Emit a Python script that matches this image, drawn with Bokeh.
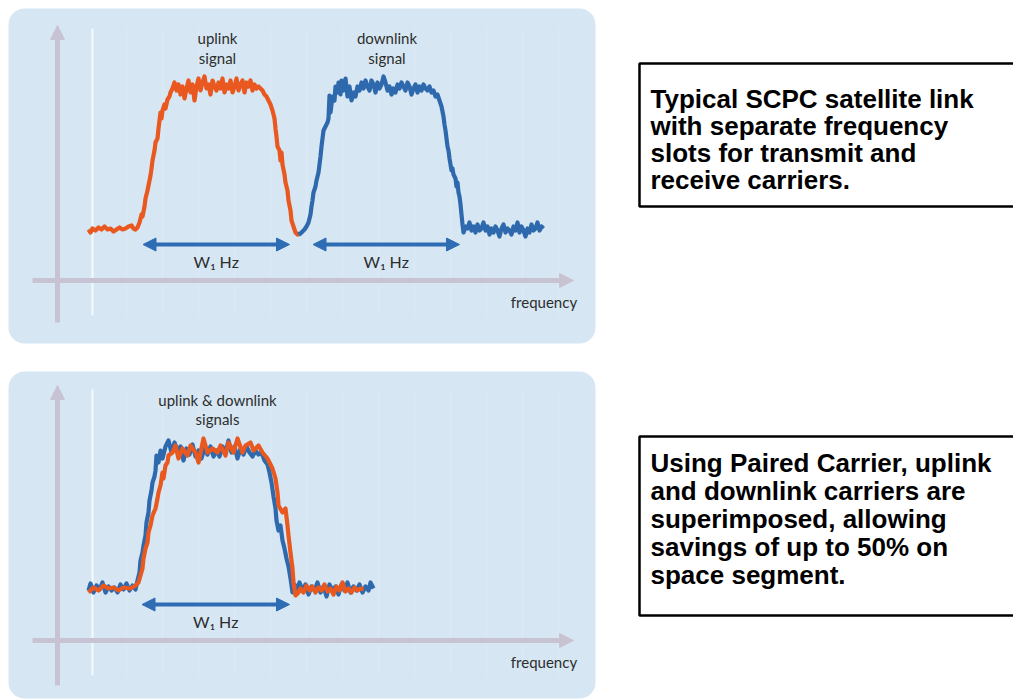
from bokeh.plotting import figure
from bokeh.layouts import row, column
from bokeh.models import Range1d, BoxAnnotation, Arrow, NormalHead
from bokeh.core.properties import value
from bokeh.embed import file_html
from bokeh.resources import INLINE

# ---------------- data (frequency in arbitrary MHz, power in dB) ----------------
# top chart: separate uplink / downlink carriers
top_uplink_f = [0.0, 0.4, 0.8, 1.4, 2.0, 2.6, 3.2, 3.8, 4.4, 5.0, 5.6, 6.2, 6.8, 7.4, 8.0, 8.6, 9.0, 9.4, 9.8,
                10.2, 10.6, 10.8, 11.2, 11.4, 11.8, 12.0, 12.4, 12.6, 12.8, 13.2, 13.4, 13.8, 14.0, 14.4, 14.6, 14.8,
                15.2, 15.4, 15.8, 16.2, 16.4, 16.8,
                17.2, 17.6, 18.0, 18.4, 18.8, 19.2, 19.6, 20.0, 20.4, 20.8, 21.2, 21.6, 22.0, 22.4, 22.8, 23.2, 23.6,
                24.0, 24.4, 24.8, 25.2, 25.6, 26.0, 26.4, 26.8, 27.2, 27.6, 28.0, 28.4, 28.8, 29.2, 29.6, 30.0, 30.4,
                30.8, 31.2, 31.6, 32.0, 32.4, 32.8, 33.2, 33.6, 34.0, 34.4,
                34.8, 35.2, 35.6, 36.0, 36.4, 36.8, 37.2, 37.4, 37.6, 37.8, 38.2, 38.4, 38.6, 38.8, 39.2, 39.4, 39.8,
                40.0, 40.4, 40.6, 41.0, 41.4, 41.8, 42.2]
top_uplink_db = [-28.8, -29.4, -28.6, -29.0, -28.4, -28.8, -28.2, -28.8, -28.6, -29.2, -28.8, -28.4, -28.8, -28.6,
                 -28.2, -28.0, -28.6, -28.8, -28.4,
                 -27.4, -25.8, -26.2, -24.2, -22.6, -21.0, -20.0, -18.0, -16.6, -15.0, -13.0, -11.4, -10.6, -8.6,
                 -5.4, -6.6, -5.0, -3.8, -4.6, -2.8, -2.2, -1.4, -0.6,
                 0.6, -1.0, 0.2, -1.8, -0.2, -2.6, -0.6, 1.0, -1.4, 0.2, -3.0, -0.2, 1.4, -1.0, 0.6, 1.8, -0.6,
                 0.2, -1.8, 1.0, -0.2, -1.0, 0.6, -0.6, 1.4, -1.4, 0.2, -0.6, 1.0, -1.4, -0.2, 1.4, -1.0, 0.2,
                 1.0, -1.4, 0.6, -0.2, 1.0, -1.0, 0.2, -0.6, -0.2, -0.6,
                 -1.0, -1.8, -2.2, -3.0, -3.8, -5.0, -6.6, -8.6, -10.2, -12.2, -13.0, -15.0, -13.4, -15.8, -17.8,
                 -19.4, -21.0, -23.0, -25.0, -27.0, -28.2, -29.4, -29.8, -29.6]

top_downlink_f = [42.0, 42.4, 42.8, 43.2, 43.6, 44.0, 44.4, 44.6, 44.8, 45.0, 45.4, 45.6, 46.0, 46.2, 46.4, 46.6,
                  46.8, 47.0, 47.4, 47.8, 48.0, 48.2, 48.4, 48.6, 48.8, 49.2, 49.4, 49.8,
                  50.0, 50.4, 50.6, 51.0, 51.4, 51.8, 52.2, 52.6, 53.0, 53.4, 53.8, 54.2, 54.6, 55.0, 55.4, 55.8,
                  56.2, 56.6, 57.0, 57.4, 57.8, 58.2, 58.6, 59.0, 59.4, 59.8, 60.2, 60.6, 61.0, 61.4, 61.8, 62.2,
                  62.6, 63.0, 63.4, 63.8, 64.2, 64.6, 65.0, 65.4, 65.8, 66.2, 66.6, 67.0, 67.4, 67.8, 68.2, 68.6,
                  69.0, 69.4, 69.8,
                  70.2, 70.6, 71.0, 71.2, 71.4, 71.6, 71.8, 72.0, 72.2, 72.4, 72.6, 72.8, 73.0, 73.4, 73.6, 73.8,
                  74.0, 74.2, 74.4, 74.6, 74.8, 75.0,
                  75.4, 75.8, 76.2, 76.6, 77.0, 77.4, 77.8, 78.2, 78.6, 79.0, 79.4, 79.8, 80.2, 80.6, 81.0, 81.4,
                  81.8, 82.2, 82.6, 83.0, 83.4, 83.8, 84.2, 84.6, 85.0, 85.4, 85.8, 86.2, 86.6, 87.0, 87.4, 87.8,
                  88.2, 88.6, 89.0, 89.4, 89.8, 90.2, 90.6, 91.0]
top_downlink_db = [-29.8, -29.6, -29.2, -28.8, -28.2, -27.4, -25.8, -24.2, -23.0, -21.4, -20.2, -19.0, -17.4, -15.8,
                   -14.2, -12.2, -10.6, -9.0, -8.2, -7.4, -6.6, -2.0, -5.4, -3.8, -2.2, -3.0, -0.2, -1.4,
                   0.6, -1.8, 1.0, -1.0, 1.4, -2.2, -0.2, -3.0, -1.4, -2.2, -0.2, -1.0, 0.6, -0.6, 1.0, -0.2,
                   -1.0, 1.0, 0.2, -1.4, 0.6, -0.6, 0.2, 1.8, 0.6, -1.0, -0.2, -1.8, -0.6, -1.4, 0.2, -0.6,
                   0.6, -0.2, -1.0, 0.6, -0.2, -1.8, -0.6, 0.2, -1.4, -0.2, -1.0, 0.2, -0.6, -1.0, -0.2, -1.4,
                   -1.0, -2.2, -1.8,
                   -3.0, -4.2, -6.2, -7.8, -9.0, -10.6, -12.2, -13.0, -14.6, -15.8, -17.0, -16.6, -17.8, -18.6,
                   -20.2, -19.4, -21.4, -22.2, -23.8, -25.8, -27.8, -29.4,
                   -28.2, -28.6, -27.4, -29.0, -28.2, -29.4, -27.8, -29.0, -28.6, -27.4, -29.0, -28.2, -29.8, -28.6,
                   -29.4, -28.2, -29.0, -30.2, -28.6, -27.8, -29.4, -28.6, -29.0, -29.8, -28.2, -29.0, -27.4, -29.4,
                   -28.2, -29.0, -30.2, -28.6, -29.4, -27.8, -29.0, -28.6, -27.4, -29.0, -28.2, -28.6]

# bottom chart: paired carrier, uplink and downlink superimposed
bot_downlink_f = [0.0, 0.4, 1.0, 1.6, 2.2, 2.8, 3.4, 4.0, 4.6, 5.2, 5.8, 6.4, 7.0, 7.6, 8.2, 8.8, 9.4, 9.8,
                  10.2, 10.4, 10.8, 11.0, 11.4, 11.6, 12.0, 12.2, 12.6, 12.8, 13.2, 13.4, 13.6, 14.0, 14.4, 14.8,
                  15.4, 16.0, 16.6, 17.2, 17.8, 18.4, 19.0, 19.6, 20.2, 20.8, 21.4, 22.0, 22.6, 23.2, 23.8, 24.4,
                  25.0, 25.6, 26.2, 26.8, 27.4, 28.0, 28.6, 29.2, 29.8, 30.4, 31.0, 31.6, 32.2, 32.8, 33.4, 34.0,
                  34.6, 35.2, 35.8, 36.2, 36.6, 37.0, 37.4, 37.6, 38.0, 38.4, 38.8, 39.2, 39.6, 40.0, 40.4, 40.8,
                  41.2, 41.6, 42.2, 42.8, 43.4, 44.0, 44.6, 45.2, 45.8, 46.4, 47.0, 47.6, 48.2, 48.8, 49.4, 50.0,
                  50.6, 51.2, 51.8, 52.4, 53.0, 53.6, 54.2, 54.8, 55.4, 56.0, 56.4, 57.0]
bot_downlink_db = [-28.8, -27.4, -29.2, -27.8, -28.6, -27.2, -29.2, -28.0, -28.8, -28.2, -29.2, -27.6, -28.6, -27.4,
                   -28.8, -27.8, -28.6, -26.8,
                   -25.2, -22.8, -21.2, -19.8, -17.8, -15.2, -13.2, -10.8, -8.8, -7.2, -6.0, -4.8, -1.8, -3.2,
                   -0.8, -2.4, 0.0, 1.2, -1.2, 0.8, -0.8, 0.0, -2.8, -0.4, -1.6, 0.4, -2.0, -0.8, -2.4, -0.4,
                   -1.6, 0.0, -2.0, -0.8, -2.0, 0.0, -1.2, 1.2, -1.2, 0.0, -2.4, -0.4, -1.6, 0.0, -1.2, -2.0,
                   -0.8, -1.6, -1.2, -2.8, -3.6, -5.2, -7.2, -10.0, -12.4, -14.8, -16.8, -15.8, -18.8, -20.4,
                   -22.4, -24.0, -26.4, -29.2, -27.6, -28.8, -27.2, -28.8, -27.6, -29.6, -28.0, -28.8, -27.2,
                   -29.2, -28.0, -30.0, -27.6, -28.8, -28.0, -29.6, -27.6, -28.8, -27.2, -29.2, -28.0, -28.8,
                   -27.6, -29.2, -28.0, -28.8, -27.2, -28.4]

bot_uplink_f = [0.0, 1.0, 2.0, 3.0, 4.0, 5.0, 6.0, 7.0, 8.4, 9.4, 10.0, 10.4, 10.8, 11.0, 11.4, 11.8, 12.0, 12.4,
                12.8, 13.4, 13.8, 14.0, 14.4, 14.8, 15.0, 15.4, 15.8, 16.0, 16.8, 17.4, 18.0, 18.8, 19.8, 20.4,
                21.4, 22.0, 23.0, 23.8, 24.8, 25.8, 26.4, 27.4, 28.0, 29.0, 29.8, 30.8, 31.4, 32.4, 33.0, 34.0,
                34.8, 35.8, 36.8, 37.4, 37.8, 38.0, 38.8, 39.4, 39.8, 40.0, 40.4, 40.8, 41.0, 41.4, 42.0,
                42.4, 43.0, 43.6, 44.2, 44.8, 45.4, 46.0, 46.6, 47.2, 47.8, 48.4, 49.0, 49.6, 50.2, 50.8, 51.4,
                52.0, 52.6, 53.2, 53.8, 54.4, 55.0]
bot_uplink_db = [-29.2, -28.2, -28.8, -27.8, -28.4, -28.2, -28.8, -28.2, -28.4, -27.8, -27.2, -25.8, -24.4, -22.4,
                 -20.4, -19.2, -17.2, -15.8, -13.8, -12.4, -10.4, -9.2, -7.8, -5.2, -6.4, -3.8, -3.2, -1.8, -1.2,
                 0.2, -2.4, -0.4, -1.8, 0.2, -1.2, -3.2, 1.6, -1.2, -0.4, -1.2, 0.2, -1.8, 0.8, -1.2, 1.6, -1.2,
                 0.2, 0.8, -0.8, 0.2, -1.2, -2.4, -4.4, -6.4, -9.2, -11.8, -13.2, -12.4, -15.8, -17.8, -21.2,
                 -24.4, -27.2, -29.8, -29.2,
                 -28.4, -29.2, -27.8, -28.8, -28.0, -29.2, -28.2, -28.8, -27.6, -29.0, -28.4, -29.6, -28.0, -28.8,
                 -27.2, -29.0, -28.4, -29.2, -28.2, -28.8, -28.4, -28.6]

top_labels = ["uplink", "signal", "downlink", "signal"]
bot_labels = ["uplink & downlink", "signals"]
bandwidth_label = "W\u2081 Hz"
axis_label = "frequency"
note_top = ["Typical SCPC satellite link", "with separate frequency", "slots for transmit and",
            "receive carriers."]
note_bot = ["Using Paired Carrier, uplink", "and downlink carriers are", "superimposed, allowing",
            "savings of up to 50% on", "space segment."]

# ---------------- styles ----------------
PANEL = "#d6e7f3"
AXIS = "#c8c3d3"
ORANGE = "#e8581f"
BLUE = "#2f69ad"
ARROW_BLUE = "#2e6cb3"
TXT = "#2d2d2d"
FONT = value("Lato")

X0, X1 = -17.6, 101.6   # figure x extent (MHz)
PX0, PX1 = -16.0, 101.4  # rounded panel x extent


def make_panel(height, db_top, db_bottom, panel_top, panel_bottom, y_axis_span, x_axis_db, white_span):
    p = figure(width=596, height=height, x_range=Range1d(X0, X1), y_range=Range1d(db_bottom, db_top),
               x_axis_type=None, y_axis_type=None, output_backend="svg", toolbar_location=None,
               min_border=0, outline_line_color=None)
    p.background_fill_color = "white"
    p.border_fill_color = "white"
    p.add_layout(BoxAnnotation(left=PX0, right=PX1, top=panel_top, bottom=panel_bottom, fill_color=PANEL,
                               fill_alpha=1.0, line_alpha=0.0, border_radius=16, level="underlay"))
    # faint vertical grid
    gx = [7.6 + 7.2 * i for i in range(13)]
    p.segment(x0=gx, x1=gx, y0=[white_span[0]] * len(gx), y1=[white_span[1]] * len(gx),
              line_color="#dce9f5", line_width=1.2)
    p.segment(x0=[0.8], x1=[0.8], y0=[white_span[0]], y1=[white_span[1]], line_color="#f3f8fc", line_width=2.2)
    # axes as arrows
    p.add_layout(Arrow(x_start=-6.2, y_start=y_axis_span[0], x_end=-6.2, y_end=y_axis_span[1],
                       line_color=AXIS, line_width=5,
                       end=NormalHead(size=14, fill_color=AXIS, line_color=AXIS, line_width=1)))
    p.add_layout(Arrow(x_start=-11.2, y_start=x_axis_db, x_end=97.0, y_end=x_axis_db,
                       line_color=AXIS, line_width=5,
                       end=NormalHead(size=14, fill_color=AXIS, line_color=AXIS, line_width=1)))
    p.text(x=[91.1], y=[x_axis_db - 4.3], text=[axis_label], text_font=FONT, text_font_size="15px",
           text_align="center", text_baseline="middle", text_color=TXT)
    return p


def width_arrow(p, f0, f1, db):
    p.add_layout(Arrow(x_start=f0, y_start=db, x_end=f1, y_end=db, line_color=ARROW_BLUE, line_width=4,
                       start=NormalHead(size=13, fill_color=ARROW_BLUE, line_color=ARROW_BLUE, line_width=1),
                       end=NormalHead(size=13, fill_color=ARROW_BLUE, line_color=ARROW_BLUE, line_width=1)))
    p.text(x=[(f0 + f1) / 2], y=[db - 3.4], text=[bandwidth_label], text_font=FONT, text_font_size="16px",
           text_align="center", text_baseline="middle", text_color=TXT)


# top panel: page y 0..370  (dB 17.0 .. -57.0)
pt = make_panel(370, 17.0, -57.0, 15.4, -51.6, (-47.4, 12.0), -39.0, (11.4, -46.0))
pt.line(top_uplink_f, top_uplink_db, line_color=ORANGE, line_width=4.2, line_join="round")
pt.line(top_downlink_f, top_downlink_db, line_color=BLUE, line_width=4.2, line_join="round")
width_arrow(pt, 10.9, 40.2, -31.8)
width_arrow(pt, 44.9, 74.2, -31.8)
pt.text(x=[25.8, 25.8, 59.7, 59.7], y=[9.5, 5.5, 9.5, 5.5], text=top_labels, text_font=FONT,
        text_font_size="15px", text_align="center", text_baseline="middle", text_color=TXT)

# bottom panel: page y 370..700 (dB 15.2 .. -50.8)
pb = make_panel(330, 15.2, -50.8, 15.0, -50.4, (-47.8, 12.2), -38.8, (11.4, -45.8))
pb.line(bot_downlink_f, bot_downlink_db, line_color=BLUE, line_width=4.2, line_join="round")
pb.line(bot_uplink_f, bot_uplink_db, line_color=ORANGE, line_width=4.2, line_join="round")
width_arrow(pb, 10.7, 40.2, -31.6)
pb.text(x=[25.8, 25.8], y=[9.4, 5.6], text=bot_labels, text_font=FONT,
        text_font_size="15px", text_align="center", text_baseline="middle", text_color=TXT)

# right side: captions in boxes (page pixel frame)
pr = figure(width=417, height=700, x_range=Range1d(596, 1013), y_range=Range1d(700, 0),
            x_axis_type=None, y_axis_type=None, output_backend="svg", toolbar_location=None,
            min_border=0, outline_line_color=None)
pr.background_fill_color = "white"
pr.border_fill_color = "white"
pr.quad(left=[639, 639], right=[1018, 1018], top=[63, 436], bottom=[206, 615],
        fill_color=None, line_color="black", line_width=2.5)
pr.text(x=[650] * len(note_top), y=[98, 125, 152, 179], text=note_top,
        text_font=value("Liberation Sans"), text_font_style="bold", text_font_size="26px",
        text_align="left", text_baseline="alphabetic", text_color="black")
pr.text(x=[650] * len(note_bot), y=[462, 490, 518, 546, 574], text=note_bot,
        text_font=value("Liberation Sans"), text_font_style="bold", text_font_size="26px",
        text_align="left", text_baseline="alphabetic", text_color="black")

layout = row(column(pt, pb), pr)
open("out.html", "w").write(file_html(layout, INLINE))
